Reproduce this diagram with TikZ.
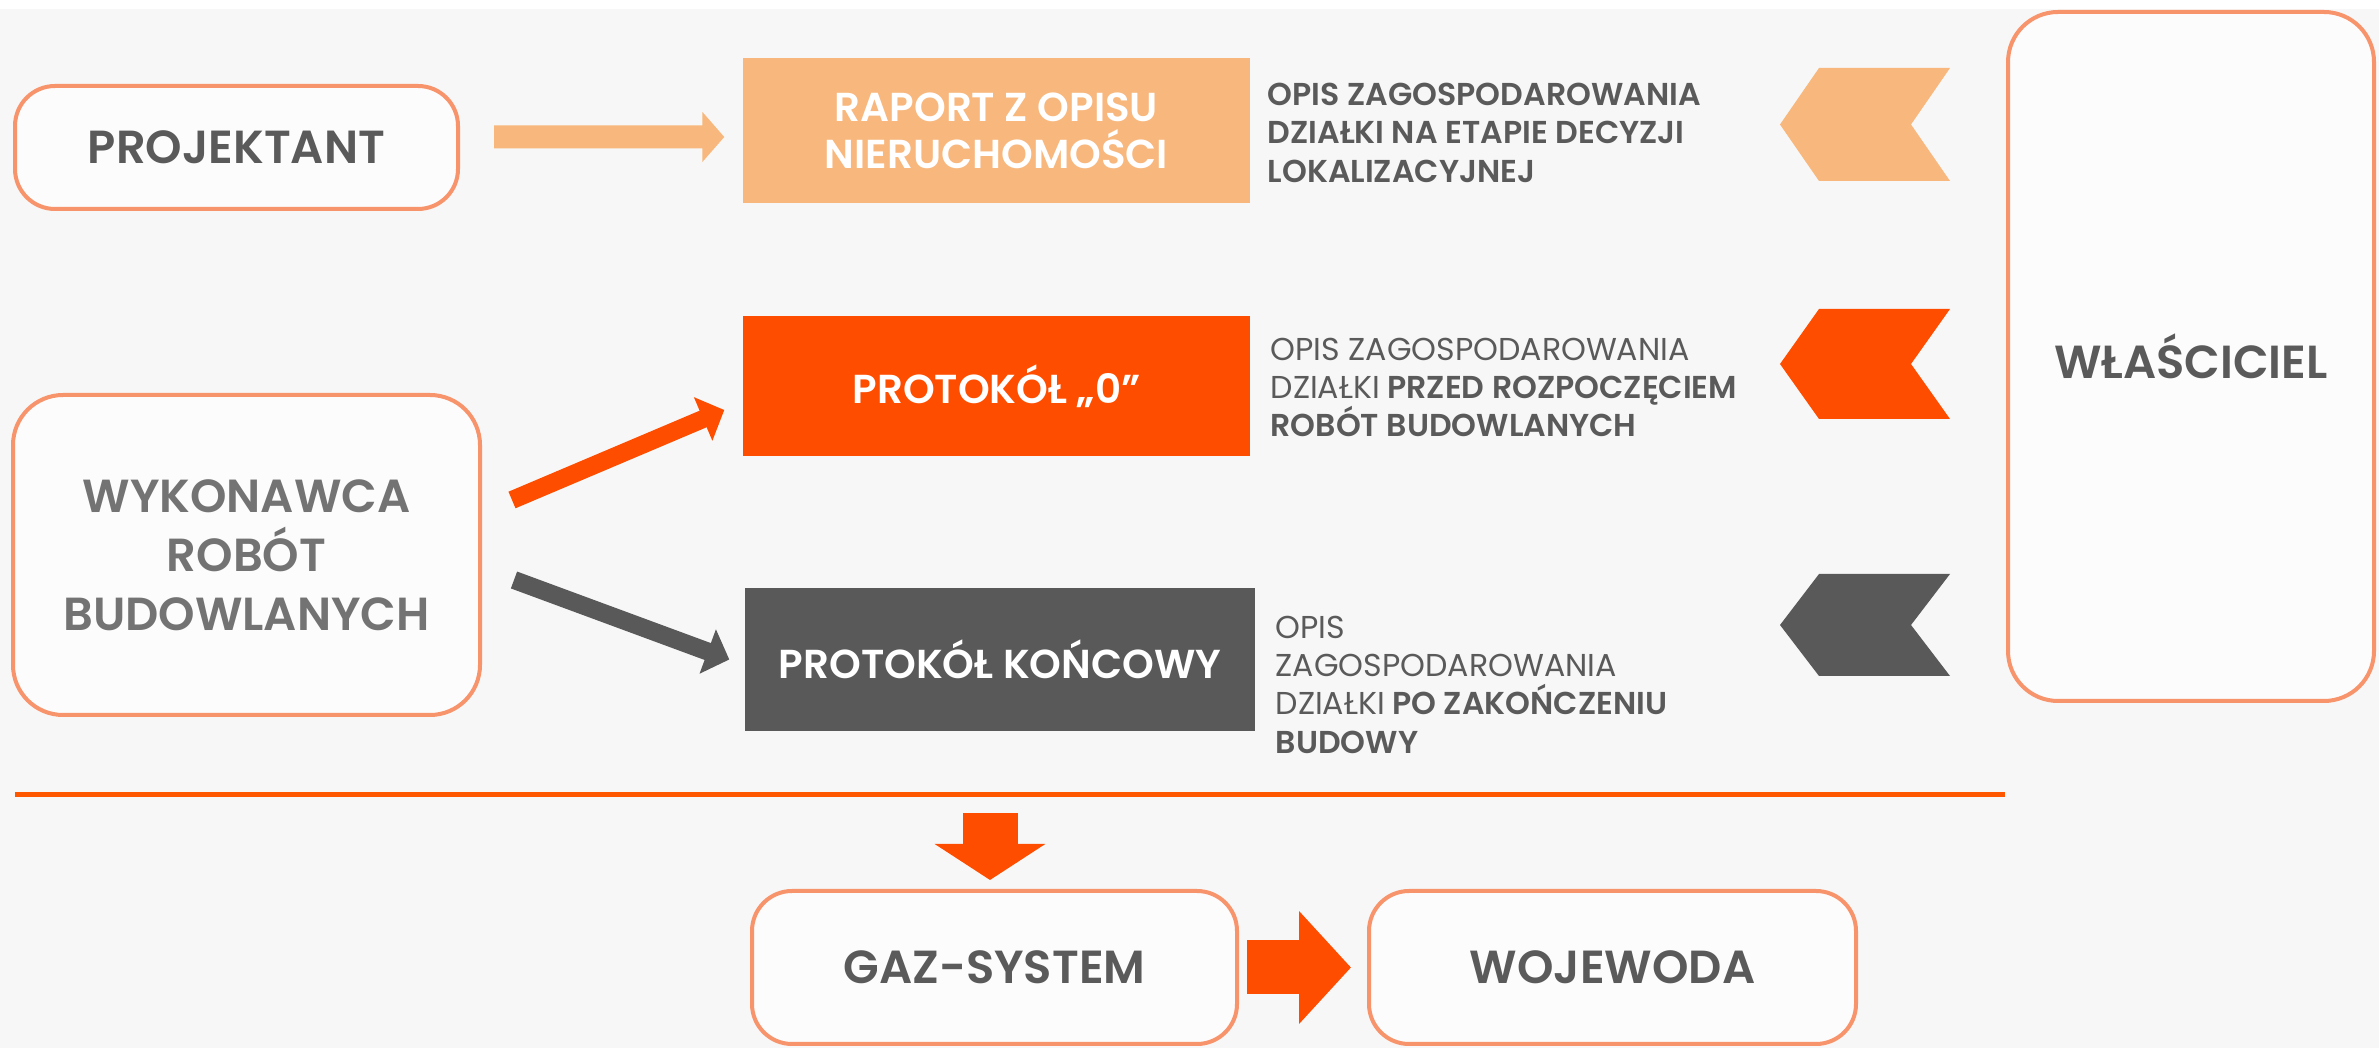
\documentclass[tikz,border=0pt]{standalone}
\usepackage{fontspec}
\setmainfont{Poppins}[BoldFont={Poppins SemiBold}]
\usetikzlibrary{arrows.meta}
\definecolor{peach}{HTML}{F8B77C}
\definecolor{flame}{HTML}{FF4D00}
\definecolor{slate}{HTML}{595959}
\definecolor{frame}{HTML}{F8946C}
\definecolor{paper}{HTML}{F7F7F7}
\definecolor{inkgray}{HTML}{5A5A5A}
\tikzset{
  outline box/.style={
    draw = frame,
    line width = 0.4mm,
    rounded corners = 4mm,
    fill = white!60!paper,
    text = inkgray,
    font = \fontsize{13.2}{16.8}\selectfont\bfseries,
    align = center,
    inner sep = 0pt,
  },
  filled box/.style={
    minimum width = 50.7mm,
    text = white,
    font = \fontsize{11.5}{13.4}\selectfont\bfseries,
    align = center,
    inner sep = 0pt,
  },
  note/.style={
    anchor = north west,
    inner sep = 0pt,
    align = left,
    text = inkgray,
    font = \fontsize{9}{10.95}\selectfont\bfseries,
  }
}

\begin{document}
\begin{tikzpicture}[x=0.1mm, y=-0.1mm]
            \useasboundingbox (0,0) rectangle (2379,1048);
            \fill[white] (0,0) rectangle (2379,9);
            \fill[paper] (0,9) rectangle (2379,1048);

            \node[outline box, minimum width=44.3mm, minimum height=12.3mm] (projektant) at (236.5,147.5) {PROJEKTANT};
            \node[outline box, rounded corners=5mm, minimum width=46.7mm, minimum height=32mm, text=gray!110] (wykonawca) at (246.5,555) {WYKONAWCA\\ROBÓT\\BUDOWLANYCH};

            \node[filled box, fill=peach, minimum height=14.5mm] (raport) at (996.5,130.5) {RAPORT Z OPISU\\NIERUCHOMOŚCI};
            \node[filled box, fill=flame, minimum height=14mm] (protokol0) at (996.5,386) {PROTOKÓŁ „0”};
            \node[filled box, fill=slate, minimum width=51mm, minimum height=14.3mm] (koncowy) at (1000,659.5) {PROTOKÓŁ KOŃCOWY};

            \node[note] (desc1) at (1267,82) {OPIS ZAGOSPODAROWANIA\\DZIAŁKI NA ETAPIE DECYZJI\\LOKALIZACYJNEJ};
            \node[note] (desc2) at (1270,337) {{\mdseries OPIS ZAGOSPODAROWANIA}\\{\mdseries DZIAŁKI} PRZED ROZPOCZĘCIEM\\ROBÓT BUDOWLANYCH};
            \node[note] (desc3) at (1275,615) {{\mdseries OPIS}\\{\mdseries ZAGOSPODAROWANIA}\\{\mdseries DZIAŁKI} PO ZAKOŃCZENIU\\BUDOWY};

            \foreach \yc/\hh/\col in {124.5/56.5/peach, 364/55/flame, 625/51/slate}
                \fill[\col] (1780,\yc) -- (1819,\yc-\hh) -- (1950,\yc-\hh) -- (1911,\yc) -- (1950,\yc+\hh) -- (1819,\yc+\hh) -- cycle;

            \node[outline box, rounded corners=5mm, minimum width=36.6mm, minimum height=68.9mm] (wlasciciel) at (2191,356.5) {WŁAŚCICIEL};

            \draw[flame!80!orange, line width=0.5mm] (15,795) -- (2005,795);
            \coordinate (split) at (990,813);

            \node[outline box, minimum width=48.5mm, minimum height=15.3mm] (gazsystem) at (994.5,967.5) {GAZ-SYSTEM};
            \node[outline box, minimum width=48.7mm, minimum height=15.3mm] (wojewoda) at (1612.5,967.5) {WOJEWODA};

            \draw[peach, line width=2.3mm, -{Triangle[length=2.2mm, width=4.9mm]}, shorten <=3.4mm, shorten >=1.8mm] ([yshift=1.05mm]projektant.east) -- ([yshift=-0.65mm]raport.west);
            \draw[flame, line width=1.8mm, -{Triangle[length=2.3mm, width=4.6mm]}] ([xshift=3mm, yshift=5.5mm]wykonawca.east) -- ([xshift=-1.8mm, yshift=-2.4mm]protokol0.west);
            \draw[slate, line width=1.8mm, -{Triangle[length=2.3mm, width=4.6mm]}] ([xshift=3.2mm, yshift=-2.5mm]wykonawca.east) -- ([xshift=-1.5mm]koncowy.west);
            \draw[flame, line width=5.5mm, -{Triangle[length=3.6mm, width=10.9mm]}, shorten >=0.9mm] (split) -- (split |- gazsystem.north);
            \draw[flame, line width=5.4mm, -{Triangle[length=5.2mm, width=11mm]}, shorten <=0.8mm, shorten >=1.6mm] (gazsystem) -- (wojewoda);
        \end{tikzpicture}
\end{document}
